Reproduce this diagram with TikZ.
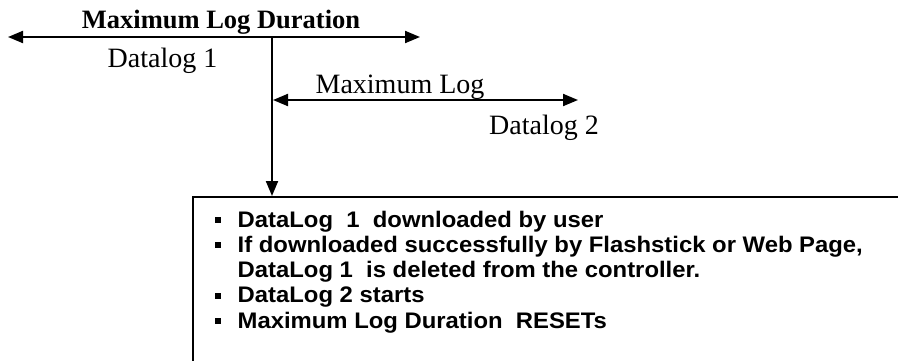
\documentclass[tikz,border=0pt]{standalone}
\usepackage{graphicx}
\usepackage{fontspec}
\setmainfont{Liberation Serif}
\newfontfamily\arialfont{Liberation Sans}
\usetikzlibrary{arrows.meta}
\newcommand{\wide}[1]{\scalebox{1.06}[1]{#1}}
\begin{document}
\begin{tikzpicture}[x=1pt,y=-1pt,
  conn/.style={line width=2pt,-{Triangle[length=15pt,width=12pt]}},
  dconn/.style={line width=2pt,{Triangle[length=15pt,width=12pt]}-{Triangle[length=15pt,width=12pt]}},
  lbl/.style={anchor=base,inner sep=0pt,font=\fontsize{28}{32}\selectfont},
  ttl/.style={anchor=base,inner sep=0pt,font=\fontsize{26.5}{30}\selectfont\bfseries},
  item/.style={anchor=base west,inner sep=0pt,font=\arialfont\bfseries\fontsize{22.5}{25}\selectfont},
  bul/.style={fill,minimum size=6pt,inner sep=0pt,outer sep=0pt}]
\useasboundingbox (0,0) rectangle (898,360);
\clip (0,0) rectangle (898,360);
% texts above the arrows
\node[ttl] (title) at (221,28) {Maximum Log Duration};
\node[lbl] (d1) at (162.5,67) {Datalog 1};
\node[lbl] (ml) at (400,93) {Maximum Log};
\node[lbl] (d2) at (544,134) {Datalog 2};
% arrow end points
\coordinate (L1) at (8,37);
\coordinate (R1) at (420,37);
\coordinate (J1) at (272,37);
\coordinate (L2) at (273,100);
\coordinate (R2) at (578,100);
% box
\node[draw,line width=2pt,anchor=north west,minimum width=800pt,minimum height=250pt,inner sep=0pt] (box) at (192,196) {};
% connectors
\draw[dconn] (L1) -- (R1);
\draw[dconn] (L2) -- (R2);
\draw[conn] (J1) -- (J1 |- box.north);
% list
\node[bul] (b1) at (217.5,220) {};
\node[item] (t1) at (237.5,227) {\wide{DataLog~ 1~ downloaded by user}};
\node[bul] (b2) at (217.5,245.3) {};
\node[item] (t2) at (237.5,252.3) {\wide{If downloaded successfully by Flashstick or Web Page,}};
\node[item] (t3) at (237.5,277.5) {\wide{DataLog 1~ is deleted from the controller.}};
\node[bul] (b4) at (217.5,295.8) {};
\node[item] (t4) at (237.5,302.8) {\wide{DataLog 2 starts}};
\node[bul] (b5) at (217.5,321) {};
\node[item] (t5) at (237.5,328) {\wide{Maximum Log Duration~ RESETs}};
\end{tikzpicture}
\end{document}
